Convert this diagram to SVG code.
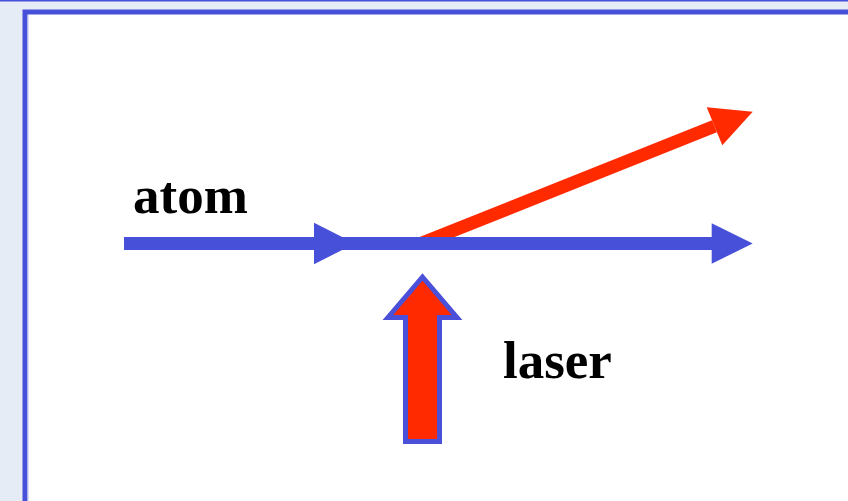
<svg xmlns="http://www.w3.org/2000/svg" width="848" height="501" viewBox="0 0 848 501">
  <style>
    .lbl { font-family: "Liberation Serif", "Times New Roman", serif; font-weight: bold; font-size: 53px; fill: #000; }
    .blue { fill: #4650d8; }
    .red { fill: #ff2a00; }
  </style>
  <rect x="0" y="0" width="848" height="501" fill="#e6ecf5"/>
  <rect x="0" y="0" width="848" height="1.5" fill="#4650d8"/>
  <g id="frame">
    <rect x="25" y="12" width="900" height="600" fill="#ffffff" stroke="#4650d8" stroke-width="5"/>
    <line x1="28" y1="15" x2="28" y2="501" stroke="#b8bcf2" stroke-width="1"/>
  </g>
  <g id="connectors">
    <g id="scattered-beam">
      <line x1="422" y1="243" x2="714.5" y2="126.3" stroke="#ff2a00" stroke-width="13"/>
      <polygon class="red" points="752.7,111.7 706.7,107.3 722.3,145.3"/>
    </g>
    <g id="atom-beam">
      <rect class="blue" x="124" y="237" width="590" height="13"/>
      <polygon class="blue" points="314,222.8 355,243.5 314,264.2"/>
      <polygon class="blue" points="711.7,223.3 752.7,243.5 711.7,263.7"/>
    </g>
  </g>
  <g id="laser-arrow">
    <polygon points="422.5,277 457,317.5 439.5,317.5 439.5,441.5 405.5,441.5 405.5,317.5 388,317.5" fill="#ff2a00" stroke="#4a50d8" stroke-width="5"/>
  </g>
  <g id="atom-label">
    <text class="lbl" x="133" y="213">atom</text>
  </g>
  <g id="laser-label">
    <text class="lbl" x="503" y="378">laser</text>
  </g>
</svg>
